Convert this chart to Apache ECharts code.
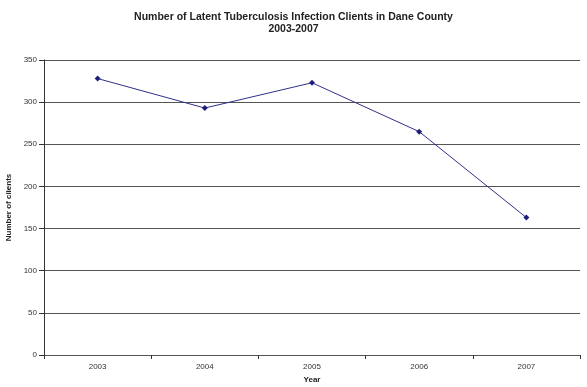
<!DOCTYPE html>
<html>
<head>
<meta charset="utf-8">
<script src="https://cdn.jsdelivr.net/npm/echarts@6/dist/echarts.min.js"></script>
<style>
  html, body { margin: 0; padding: 0; background: #fff; }
  #chart { width: 587px; height: 387px; }
</style>
</head>
<body>
<div id="chart"></div>
<script>
// Latent TB infection clients, Dane County
const years = ['2003', '2004', '2005', '2006', '2007'];
const clients = [328, 293, 323, 265, 163];
const yTicks = { min: 0, max: 350, interval: 50 };

const chart = echarts.init(document.getElementById('chart'), null, { renderer: 'canvas' });
const font = '"Liberation Sans", Arial, sans-serif';

chart.setOption({
  animation: false,
  backgroundColor: '#ffffff',
  title: {
    text: 'Number of Latent Tuberculosis Infection Clients in Dane County\n2003-2007',
    left: 'center',
    top: 6,
    textStyle: { fontFamily: font, fontSize: 10.5, fontWeight: 'bold', color: '#222', lineHeight: 12 }
  },
  grid: { left: 44, right: 7, top: 60, bottom: 32, containLabel: false, outerBoundsMode: 'none' },
  xAxis: {
    type: 'category',
    data: years,
    boundaryGap: true,
    name: 'Year',
    nameLocation: 'middle',
    nameGap: 19,
    nameTextStyle: { fontFamily: font, fontSize: 8, fontWeight: 'bold', color: '#222' },
    axisLine: { lineStyle: { color: '#555', width: 1 } },
    axisTick: { show: true, alignWithLabel: false, length: 4, lineStyle: { color: '#333' } },
    axisLabel: { fontFamily: font, fontSize: 8, color: '#333', margin: 8 },
    splitLine: { show: false }
  },
  yAxis: {
    type: 'value',
    min: yTicks.min,
    max: yTicks.max,
    interval: yTicks.interval,
    name: 'Number of clients',
    nameLocation: 'middle',
    nameGap: 28,
    nameRotate: 90,
    nameTextStyle: { fontFamily: font, fontSize: 8, fontWeight: 'bold', color: '#222' },
    axisLine: { show: true, lineStyle: { color: '#333', width: 1 } },
    axisTick: { show: true, length: 5, lineStyle: { color: '#333' } },
    axisLabel: { fontFamily: font, fontSize: 8, color: '#333', margin: 7 },
    splitLine: { show: true, lineStyle: { color: '#555', width: 1 } }
  },
  series: [{
    type: 'line',
    data: clients,
    symbol: 'diamond',
    symbolSize: 6,
    lineStyle: { color: '#30308a', width: 1 },
    itemStyle: { color: '#1f1f7a' }
  }]
});
</script>
</body>
</html>
